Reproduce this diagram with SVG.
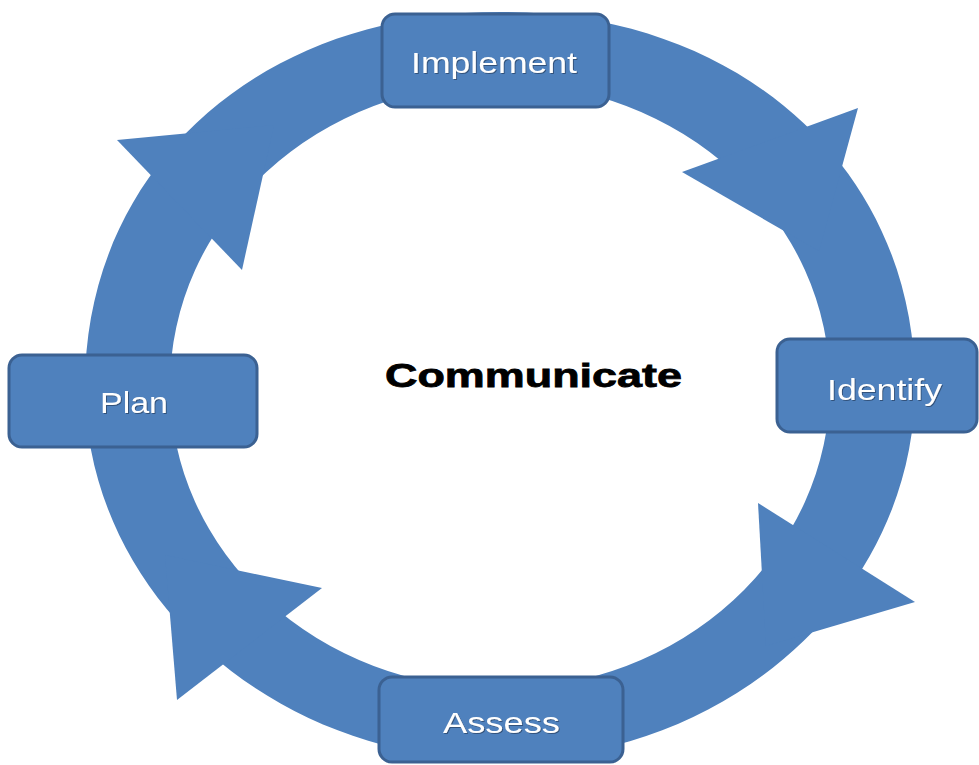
<svg xmlns="http://www.w3.org/2000/svg" width="979" height="765" viewBox="0 0 979 765">
  <defs>
    <style>
      .ring { fill: #4f81bd; fill-rule: evenodd; }
      .head { fill: #4f81bd; }
      .box { fill: #4f81bd; stroke: #3b6192; stroke-width: 3; }
      .lbl { font-family: "Liberation Sans", Arial, sans-serif; font-size: 30px; fill: #ffffff; text-anchor: middle; filter: url(#sh); }
      .title { font-family: "Liberation Sans", Arial, sans-serif; font-size: 34px; font-weight: bold; fill: #000000; stroke: #000000; stroke-width: 0.8; text-anchor: middle; }
    </style>
    <filter id="sh" x="-10%" y="-20%" width="120%" height="150%">
      <feDropShadow dx="1" dy="1" stdDeviation="0.6" flood-color="#1f3350" flood-opacity="0.6"/>
    </filter>
  </defs>
  <rect width="979" height="765" fill="#ffffff"/>

  <g id="connectors">
    <path class="ring" d="M 85 386 C 85 169.1 259.3 12 500 12 C 740.7 12 915 169.1 915 386 C 915 592.6 729.2 760 500 760 C 270.8 760 85 592.6 85 386 Z M 170 386 A 330 303 0 1 1 830 386 A 330 303 0 1 1 170 386 Z"/>
    <polygon class="head" points="858,108 682,172 819,251"/>
    <polygon class="head" points="758,503 915,602 766,646"/>
    <polygon class="head" points="177,700 322,588 165,555"/>
    <polygon class="head" points="117,140 242,270 274,125"/>
  </g>

  <g id="node-implement">
    <rect class="box" x="382" y="14" width="227" height="93" rx="13"/>
    <text class="lbl" x="494" y="73" textLength="166" lengthAdjust="spacingAndGlyphs">Implement</text>
  </g>

  <g id="node-identify">
    <rect class="box" x="777" y="339" width="200" height="93" rx="13"/>
    <text class="lbl" x="884.5" y="400" textLength="115" lengthAdjust="spacingAndGlyphs">Identify</text>
  </g>

  <g id="node-assess">
    <rect class="box" x="379" y="677" width="244" height="85" rx="13"/>
    <text class="lbl" x="501.5" y="733" textLength="117" lengthAdjust="spacingAndGlyphs">Assess</text>
  </g>

  <g id="node-plan">
    <rect class="box" x="9" y="355" width="248" height="92" rx="13"/>
    <text class="lbl" x="134" y="413" textLength="68" lengthAdjust="spacingAndGlyphs">Plan</text>
  </g>

  <g id="node-communicate">
    <text class="title" x="533.5" y="387" textLength="297" lengthAdjust="spacingAndGlyphs">Communicate</text>
  </g>
</svg>
